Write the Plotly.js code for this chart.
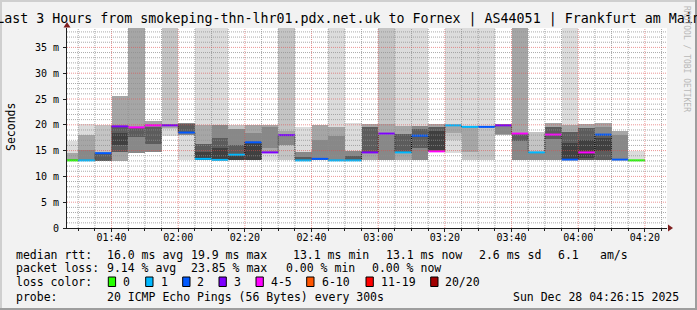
<!DOCTYPE html>
<html><head><meta charset="utf-8">
<script src="https://cdn.plot.ly/plotly-3.0.1.min.js"></script>
<style>html,body{margin:0;padding:0;background:#f2f2f2;}#chart{width:697px;height:310px;}</style>
</head><body><div id="chart"></div>
<script>
// ---------------- data ----------------
const TOP = 45; // smoke that goes above the top of the scale
const slots = ['01:25','01:30','01:35','01:40','01:45','01:50','01:55','02:00','02:05','02:10',
  '02:15','02:20','02:25','02:30','02:35','02:40','02:45','02:50','02:55','03:00',
  '03:05','03:10','03:15','03:20','03:25','03:30','03:35','03:40','03:45','03:50',
  '03:55','04:00','04:05','04:10','04:15'];
const median = [13.1,13.1,14.5,19.7,19.5,19.9,19.9,18.5,13.4,13.2,
  14.2,16.6,14.65,18.0,13.1,13.4,13.1,13.1,14.65,18.3,
  14.65,17.9,14.85,19.9,19.6,19.6,19.9,18.3,14.65,18.1,
  13.25,14.65,18.1,13.25,13.1];
const lostPings = [0,1,2,3,4,5,3,2,1,1,
  1,2,3,3,1,2,1,1,3,3,
  1,2,4,1,1,2,3,5,1,4,
  2,5,2,2,0];
const n = null;
// smoke bands, outermost/lightest (1) to innermost/darkest (6): low and high edge in ms
const smoke1Lo = [13.0,13.0,n,n,n,n,17.8,13.1,13.2,13.1,n,n,13.1,n,13.1,n,13.1,13.1,n,n,13.1,13.1,n,14.6,13.1,13.1,n,n,n,n,13.1,n,n,n,13.1];
const smoke1Hi = [16.8,20.1,n,n,n,n,TOP,20.3,TOP,TOP,n,n,20.0,n,19.5,n,TOP,20.3,n,n,TOP,TOP,n,TOP,TOP,TOP,n,n,n,n,TOP,n,n,n,14.9];
const smoke2Lo = [n,n,13.0,n,n,n,19.2,n,n,n,13.1,n,n,13.1,n,n,n,n,n,13.1,n,n,n,17.0,13.1,13.1,n,n,13.1,n,n,n,n,n,n];
const smoke2Hi = [n,n,19.9,n,n,n,TOP,n,n,n,19.9,n,n,TOP,n,n,n,n,n,TOP,n,n,n,19.9,19.6,19.6,n,n,18.7,n,n,n,n,n,n];
const smoke3Lo = [13.0,13.0,n,13.0,14.5,14.7,19.3,n,13.2,n,n,13.1,14.6,16.0,n,13.2,13.1,n,13.1,13.1,13.1,n,14.8,18.5,14.8,n,18.1,13.1,n,13.1,13.1,13.1,13.1,13.1,n];
const smoke3Hi = [14.5,18.1,n,25.5,TOP,20.8,20.2,n,19.9,n,n,20.0,20.0,18.8,n,19.9,19.6,n,20.2,20.2,19.7,n,20.1,19.9,19.6,n,20.2,TOP,n,20.3,19.9,20.2,20.4,18.8,n];
const smoke4Lo = [13.0,13.0,n,n,14.5,14.7,n,18.0,n,13.1,13.1,13.1,15.5,16.1,13.1,13.2,13.1,13.1,n,13.1,n,13.1,n,n,n,n,18.3,13.1,13.1,13.1,n,n,13.1,13.1,n];
const smoke4Hi = [13.4,15.2,n,n,19.0,19.9,n,20.3,n,19.9,19.2,18.5,19.5,17.8,14.8,17.0,17.9,14.9,n,18.0,n,19.7,n,n,n,n,19.9,18.2,14.6,18.0,n,n,19.6,18.0,n];
const smoke5Lo = [n,n,13.0,14.8,17.6,16.2,n,18.6,13.2,13.1,13.1,n,n,n,13.1,n,n,13.1,14.7,n,14.7,15.5,14.8,n,n,n,n,16.9,n,17.2,13.1,13.1,13.1,n,n];
const smoke5Hi = [n,n,14.5,19.7,19.5,19.5,n,20.1,16.2,17.5,16.0,n,n,n,13.8,n,n,14.0,19.6,n,18.2,19.2,19.5,n,n,n,n,18.2,n,19.6,18.7,19.4,18.0,n,n];
const smoke6Lo = [n,n,n,16.0,n,n,n,n,13.2,13.1,13.1,13.1,n,n,n,n,n,n,n,n,n,n,15.2,n,n,n,n,n,n,n,13.1,13.5,15.0,n,n];
const smoke6Hi = [n,n,n,18.5,n,n,n,n,14.8,15.5,14.2,16.5,n,n,n,n,n,n,n,n,n,n,18.8,n,n,n,n,n,n,n,16.5,17.0,17.5,n,n];

const yTickVals = [0,5,10,15,20,25,30,35];
const yTickText = ['0','5 m','10 m','15 m','20 m','25 m','30 m','35 m'];
const lossLabels = ['0','1','2','3','4-5','6-10','11-19','20/20'];
const titleText = 'Last 3 Hours from smokeping-thn-lhr01.pdx.net.uk to Fornex | AS44051 | Frankfurt am Main';
const statRows = [
  [['median rtt:',16],['16.0 ms avg',107.3],['19.9 ms max',190.7],['13.1 ms min',292.7],['13.1 ms now',386],['2.6 ms sd',479.3],['6.1',558.3],['am/s',600]],
  [['packet loss:',16],['9.14 % avg',107.3],['23.85 % max',190.7],['0.00 % min',286],['0.00 % now',372.3]],
  [['loss color:',16]],
  [['probe:',16],['20 ICMP Echo Pings (56 Bytes) every 300s',107.3],['Sun Dec 28 04:26:15 2025',513.3]]
];

// ---------------- styles ----------------
const STEP = 300000;
const lossColors = ['#26ff00','#00b8ff','#0059ff','#7e00ff','#ff00ff','#ff5500','#ff0000','#a10000'];
const smokeColors = ['#dcdcdc','#c4c4c4','#a6a6a6','#888888','#5c5c5c','#404040'];
const MONO = 'DejaVu Sans Mono, monospace';
const PL=67, PR=667, PT=28, PB=228;
const px = x => (x-PL)/(PR-PL);
const py = y => (PB-y)/(PB-PT);
const pad = v => String(v).padStart(2,'0');
function ms(hhmm){const [h,m]=hhmm.split(':').map(Number);return Date.UTC(2025,11,28,h,m);}
function fmt(t){const d=new Date(t);return d.getUTCFullYear()+'-'+pad(d.getUTCMonth()+1)+'-'+pad(d.getUTCDate())+' '+pad(d.getUTCHours())+':'+pad(d.getUTCMinutes())+':'+pad(d.getUTCSeconds());}
function lossClass(p){if(p<=3)return p;if(p<=5)return 4;if(p<=10)return 5;if(p<=19)return 6;return 7;}

const starts = slots.map(ms);
const centers = starts.map(t=>fmt(t+STEP/2));

const traces = [];
const smokeLo=[smoke1Lo,smoke2Lo,smoke3Lo,smoke4Lo,smoke5Lo,smoke6Lo];
const smokeHi=[smoke1Hi,smoke2Hi,smoke3Hi,smoke4Hi,smoke5Hi,smoke6Hi];
smokeLo.forEach((lo,k)=>{
  const hi=smokeHi[k]; const x=[],y=[],b=[];
  lo.forEach((v,i)=>{ if(v!==null && hi[i]!==null){x.push(centers[i]);b.push(v);y.push(hi[i]-v);} });
  traces.push({type:'bar',x:x,y:y,base:b,width:STEP,marker:{color:smokeColors[k],line:{width:0}},hoverinfo:'skip',showlegend:false});
});
// median step line (dotted, dark)
{
  const x=[],y=[];
  median.forEach((m,i)=>{x.push(fmt(starts[i]),fmt(starts[i]+STEP));y.push(m,m);});
  traces.push({type:'scatter',mode:'lines',x:x,y:y,line:{color:'#000',width:1,dash:'1px,1px'},hoverinfo:'skip',showlegend:false});
}
// median coloured by loss
for(let c=0;c<lossColors.length;c++){
  const x=[],y=[];
  median.forEach((m,i)=>{ if(lossClass(lostPings[i])===c){x.push(fmt(starts[i]),fmt(starts[i]+STEP),null);y.push(m,m,null);} });
  if(x.length) traces.push({type:'scatter',mode:'lines',x:x,y:y,line:{color:lossColors[c],width:2},hoverinfo:'skip',showlegend:false});
}

// grid shapes (drawn above data like rrdtool)
const shapes=[];
const xStart = Date.UTC(2025,11,28,1,26,38), xEnd = xStart + 180*60000;
for(let t=ms('01:30'); t<xEnd; t+=STEP){
  const major = ((t/60000)%20)===0;
  shapes.push({type:'line',layer:'above',xref:'x',yref:'paper',x0:fmt(t),x1:fmt(t),y0:0,y1:1,
    line:{color:major?'rgba(222,79,79,0.6)':'rgba(143,143,143,0.75)',width:1,dash:'1px,1px'}});
}
for(let v=1; v<39; v++){
  const major = v%5===0;
  shapes.push({type:'line',layer:'above',xref:'paper',yref:'y',x0:0,x1:1,y0:v,y1:v,
    line:{color:major?'rgba(222,79,79,0.6)':'rgba(143,143,143,0.75)',width:1,dash:'1px,1px'}});
}
// frame
shapes.push({type:'rect',xref:'paper',yref:'paper',x0:px(0),x1:px(697),y0:py(0),y1:py(2),fillcolor:'#cfcfcf',line:{width:0}});
shapes.push({type:'rect',xref:'paper',yref:'paper',x0:px(0),x1:px(2),y0:py(0),y1:py(310),fillcolor:'#cfcfcf',line:{width:0}});
shapes.push({type:'rect',xref:'paper',yref:'paper',x0:px(0),x1:px(697),y0:py(308),y1:py(310),fillcolor:'#9e9e9e',line:{width:0}});
shapes.push({type:'rect',xref:'paper',yref:'paper',x0:px(695),x1:px(697),y0:py(0),y1:py(310),fillcolor:'#9e9e9e',line:{width:0}});
// axis arrows
function tri(pts){return 'M'+pts.map(p=>px(p[0])+','+py(p[1])).join('L')+'Z';}
shapes.push({type:'path',xref:'paper',yref:'paper',path:tri([[668,224.5],[673,228],[668,231.5]]),fillcolor:'#7f1f1f',line:{width:0}});
shapes.push({type:'path',xref:'paper',yref:'paper',path:tri([[63.5,27.5],[67,22],[70.5,27.5]]),fillcolor:'#7f1f1f',line:{width:0}});
// legend boxes
const boxX=[108.3,145.7,182.7,219,256,306.7,366,430.7];
const labX=[123.3,161,197.3,234.3,270.7,321.7,380.7,445.3];
const annotations=[];
boxX.forEach((bx,i)=>{
  shapes.push({type:'rect',xref:'paper',yref:'paper',x0:px(bx),x1:px(bx+7.3),y0:py(277),y1:py(286.5),fillcolor:lossColors[i],line:{color:'#000',width:1}});
  annotations.push({xref:'paper',yref:'paper',x:px(labX[i]),y:py(282),xanchor:'left',yanchor:'middle',text:lossLabels[i],showarrow:false,borderpad:0,borderwidth:0,font:{family:MONO,size:11.5,color:'#000'}});
});
const rowY=[254.5,268.3,282,296.5];
statRows.forEach((row,r)=>row.forEach(([txt,x])=>{
  annotations.push({xref:'paper',yref:'paper',x:px(x),y:py(rowY[r]),xanchor:'left',yanchor:'middle',text:txt.replace(/ /g,'&nbsp;'),showarrow:false,borderpad:0,borderwidth:0,font:{family:MONO,size:11.5,color:'#000'}});
}));
annotations.push({xref:'paper',yref:'paper',x:px(11),y:py(127),xanchor:'center',yanchor:'middle',text:'Seconds',textangle:-90,showarrow:false,borderpad:0,borderwidth:0,font:{family:MONO,size:11.5,color:'#000'}});
annotations.push({xref:'paper',yref:'paper',x:px(687),y:py(59),xanchor:'center',yanchor:'middle',text:'RRDTOOL / TOBI OETIKER',textangle:90,showarrow:false,borderpad:0,borderwidth:0,font:{family:MONO,size:8,color:'#b8b8b8'}});

const layout={
  width:697,height:310,
  margin:{l:PL,r:697-PR,t:PT,b:310-PB,pad:0},
  paper_bgcolor:'#f2f2f2',plot_bgcolor:'#ffffff',
  barmode:'overlay',bargap:0,showlegend:false,
  title:{text:titleText,x:0.5,xref:'container',xanchor:'center',y:1-18.5/310,yref:'container',yanchor:'middle',font:{family:MONO,size:13.3,color:'#000'}},
  xaxis:{type:'date',range:[fmt(xStart),fmt(xEnd)],tickformat:'%H:%M',dtick:1200000,tick0:fmt(ms('01:40')),
    showgrid:false,zeroline:false,showline:true,linecolor:'#1f1f1f',linewidth:1,
    ticks:'outside',ticklen:3,tickcolor:'#1f1f1f',ticklabelstandoff:-3,
    minor:{dtick:STEP,ticks:'outside',ticklen:2,tickcolor:'#1f1f1f',showgrid:false},
    tickfont:{family:MONO,size:10,color:'#000'},fixedrange:true},
  yaxis:{range:[0,38.76],tickvals:yTickVals,ticktext:yTickText,
    showgrid:false,zeroline:false,showline:true,linecolor:'#1f1f1f',linewidth:1,
    ticks:'outside',ticklen:3,tickcolor:'#1f1f1f',ticklabelstandoff:2,
    tickfont:{family:MONO,size:10,color:'#000'},fixedrange:true},
  shapes:shapes,annotations:annotations
};
Plotly.newPlot('chart',traces,layout,{staticPlot:true,displayModeBar:false});
</script></body></html>
